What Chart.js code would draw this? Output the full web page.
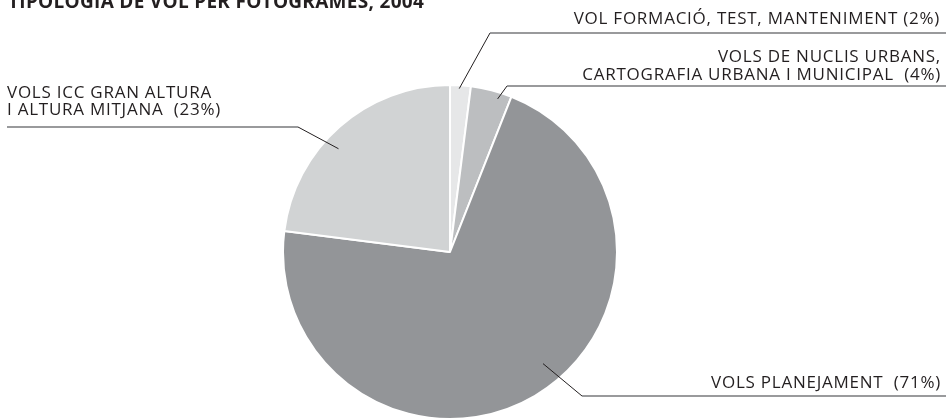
<!DOCTYPE html>
<html>
<head>
<meta charset="utf-8">
<script src="https://cdn.jsdelivr.net/npm/chart.js@4/dist/chart.umd.min.js"></script>
<style>
  html, body { margin: 0; padding: 0; background: #fff; }
  #wrap { width: 949px; height: 420px; position: relative; }
</style>
</head>
<body>
<div id="wrap"><canvas id="pie"></canvas></div>
<script>
const categories = [
  "VOL FORMACIÓ, TEST, MANTENIMENT",
  "VOLS DE NUCLIS URBANS, CARTOGRAFIA URBANA I MUNICIPAL",
  "VOLS PLANEJAMENT",
  "VOLS ICC GRAN ALTURA I ALTURA MITJANA"
];
const shares = [2, 4, 71, 23];
const labelLines = [
  ["VOL FORMACIÓ, TEST, MANTENIMENT (2%)"],
  ["VOLS DE NUCLIS URBANS,", "CARTOGRAFIA URBANA I MUNICIPAL  (4%)"],
  ["VOLS PLANEJAMENT  (71%)"],
  ["VOLS ICC GRAN ALTURA", "I ALTURA MITJANA  (23%)"]
];
const sliceColors = ["#e6e7e8", "#bcbec0", "#939598", "#d1d3d4"];

const textColor = "#231f20";
const labelFont = "17px 'Open Sans'";

// where each leader starts inside the slice, where it bends, and where the text sits
const leaders = [
  { at: 0.45, r: 0.98, elbow: [490, 33], lineTo: 946, align: "right", tx: 940, ty: [24] },
  { at: 0.7, r: 0.96, elbow: [507, 86], lineTo: 946, align: "right", tx: 941, ty: [62, 80] },
  { at: 0.464, r: 0.87, elbow: [582, 396], lineTo: 946, align: "right", tx: 941, ty: [388] },
  { at: 0.43, r: 0.91, elbow: [298, 127], lineTo: 7, align: "left", tx: 7, ty: [98, 115] }
];

const leaderPlugin = {
  id: "leaders",
  afterDraw(chart) {
    const ctx = chart.ctx;
    const arcs = chart.getDatasetMeta(0).data;
    ctx.save();

    // title, cut by the top edge like in the print
    ctx.fillStyle = textColor;
    ctx.font = "bold 19px 'Open Sans'";
    ctx.letterSpacing = "0.3px";
    ctx.textAlign = "left";
    ctx.textBaseline = "alphabetic";
    ctx.fillText("TIPOLOGIA DE VOL PER FOTOGRAMES, 2004", 8, 8);

    arcs.forEach((arc, i) => {
      const l = leaders[i];
      const p = arc.getProps(["x", "y", "startAngle", "endAngle", "outerRadius"], true);
      const a = p.startAngle + (p.endAngle - p.startAngle) * l.at;
      const px = p.x + Math.cos(a) * p.outerRadius * l.r;
      const py = p.y + Math.sin(a) * p.outerRadius * l.r;

      ctx.strokeStyle = textColor;
      ctx.lineWidth = 1;
      ctx.beginPath();
      ctx.moveTo(px, py);
      ctx.lineTo(l.elbow[0], l.elbow[1]);
      ctx.stroke();

      ctx.strokeStyle = "#77787b";
      ctx.lineWidth = 1.5;
      ctx.beginPath();
      ctx.moveTo(l.elbow[0], l.elbow[1]);
      ctx.lineTo(l.lineTo, l.elbow[1]);
      ctx.stroke();

      ctx.fillStyle = textColor;
      ctx.font = labelFont;
      ctx.letterSpacing = "0.75px";
      ctx.textAlign = l.align;
      labelLines[i].forEach((t, k) => ctx.fillText(t, l.tx, l.ty[k]));
    });
    ctx.restore();
  }
};

new Chart(document.getElementById("pie"), {
  type: "pie",
  data: {
    labels: categories,
    datasets: [{
      data: shares,
      backgroundColor: sliceColors,
      borderColor: "#ffffff",
      borderWidth: 2
    }]
  },
  options: {
    responsive: true,
    maintainAspectRatio: false,
    animation: false,
    layout: { padding: { top: 84, bottom: 0, left: 0, right: 49 } },
    plugins: {
      legend: { display: false },
      tooltip: { enabled: false }
    }
  },
  plugins: [leaderPlugin]
});
</script>
</body>
</html>
